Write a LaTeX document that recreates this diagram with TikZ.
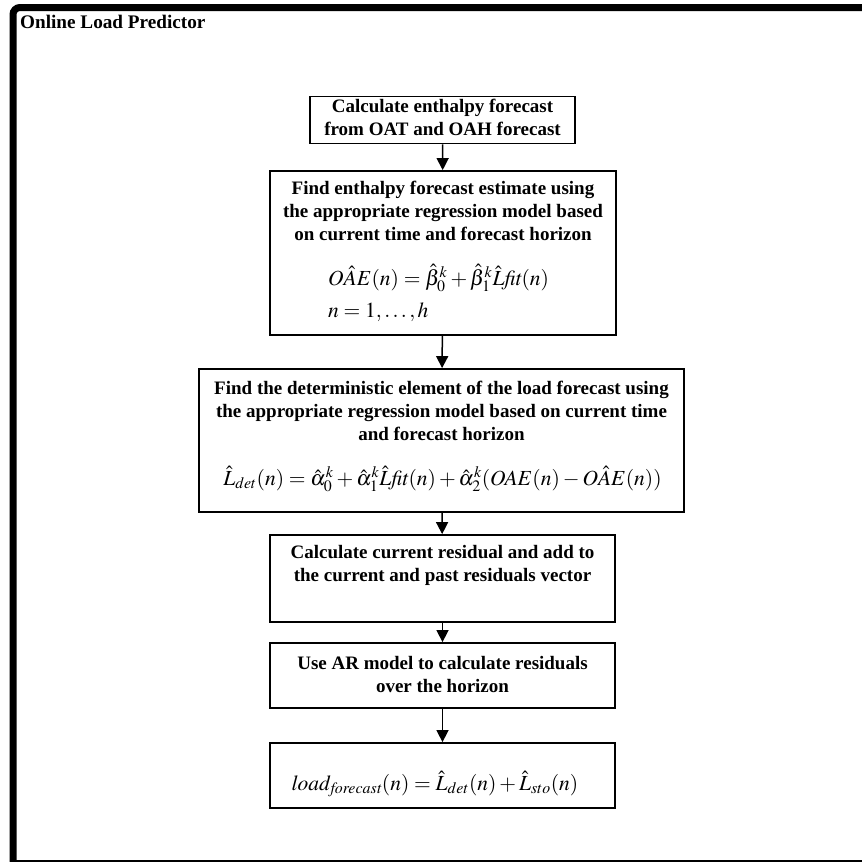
\documentclass[tikz,border=0pt]{standalone}
\usepackage{mathptmx}
\usepackage[no-math]{fontspec}
\setmainfont{Liberation Serif}
\usetikzlibrary{arrows.meta}
\tikzset{
  stepbox/.style={draw, line width=1.8pt, inner sep=0pt},
  flow/.style={line width=1.5pt, -{Triangle[length=12pt,width=12pt]}},
  btxt/.style={inner sep=0pt, align=center, font=\fontsize{19}{23}\selectfont\bfseries},
  mtxt/.style={inner sep=0pt, font=\fontsize{21.5}{26}\selectfont},
  frame/.style={line width=7pt}
}
\begin{document}
\begin{tikzpicture}[x=1pt,y=-1pt]
\useasboundingbox (0,0) rectangle (862,862);
\clip (0,0) rectangle (862,862);
% outer frame
\draw[frame, rounded corners=7pt] (13,880) -- (13,7.5) -- (880,7.5);
\draw[frame] (9.5,863.5) -- (880,863.5);
\node[anchor=base west, inner sep=0pt, font=\fontsize{19.2}{22}\selectfont\bfseries] (title) at (20,28) {Online Load Predictor};
% boxes
\node[stepbox, minimum width=265pt, minimum height=47pt] (b1) at (442.5,120) {};
\node[stepbox, minimum width=346pt, minimum height=164pt] (b2) at (443,253) {};
\node[stepbox, minimum width=485pt, minimum height=143pt] (b3) at (441.5,440.5) {};
\node[stepbox, minimum width=345pt, minimum height=87pt] (b4) at (442.5,578.5) {};
\node[stepbox, minimum width=345pt, minimum height=65pt] (b5) at (442.5,675.5) {};
\node[stepbox, minimum width=345pt, minimum height=65pt] (b6) at (442.5,775.5) {};
% texts
\node[btxt, anchor=north] (t1) at (442.5,99) {Calculate enthalpy forecast\\from OAT and OAH forecast};
\node[btxt, anchor=north] (t2) at (443,181) {Find enthalpy forecast estimate using\\the appropriate regression model based\\on current time and forecast horizon};
\node[mtxt, anchor=base west] (e2a) at (328,285) {$O\hat{A}E(n) = \hat{\beta}_0^k + \hat{\beta}_1^k\hat{L}\mathit{fit}(n)$};
\node[mtxt, anchor=base west] (e2b) at (328,317) {$n = 1,\ldots,h$};
\node[btxt, anchor=north] (t3) at (441.5,381) {Find the deterministic element of the load forecast using\\the appropriate regression model based on current time\\and forecast horizon};
\node[mtxt, anchor=base] (e3) at (442.5,485) {$\hat{L}_{det}(n) = \hat{\alpha}_0^k + \hat{\alpha}_1^k\hat{L}\mathit{fit}(n) + \hat{\alpha}_2^k(OAE(n) - O\hat{A}E(n))$};
\node[btxt, anchor=north] (t4) at (442.5,545) {Calculate current residual and add to\\the current and past residuals vector};
\node[btxt, anchor=north] (t5) at (442.5,656) {Use AR model to calculate residuals\\over the horizon};
\node[mtxt, anchor=base] (e6) at (435,790) {$\mathit{load}_{\mathit{forecast}}(n) = \hat{L}_{det}(n) + \hat{L}_{sto}(n)$};
% arrows
\draw[flow] (b1) -- (b2);
\draw[flow] (b2) -- (b3);
\draw[flow] (b3) -- (b4);
\draw[flow] (b4) -- (b5);
\draw[flow] (b5) -- (b6);
\end{tikzpicture}
\end{document}
